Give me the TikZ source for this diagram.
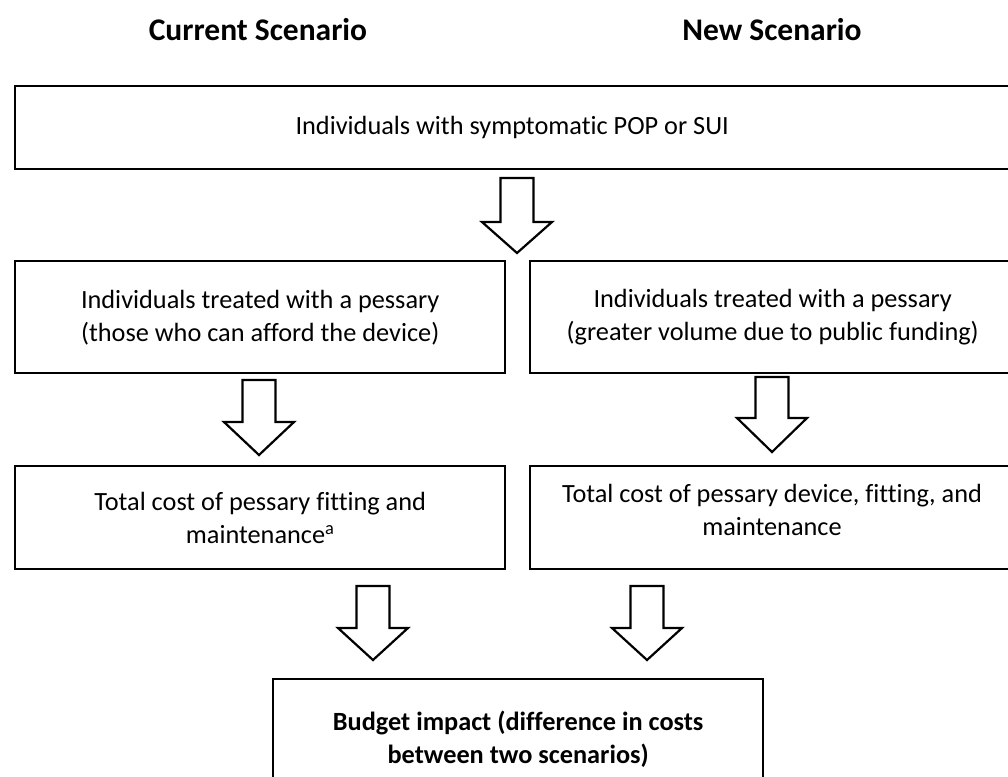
\documentclass[tikz,border=0pt]{standalone}
\usepackage{fontspec}
\setmainfont{Carlito}[Ligatures=NoCommon]
% hollow block arrow: centre x, shaft top, head top, tip
\newcommand\blockarrow[4]{%
  \draw[flowarrow] (#1-16.5,#2) -- (#1+16.5,#2) -- (#1+16.5,#3) -- (#1+35,#3)
    -- (#1,#4) -- (#1-35,#3) -- (#1-16.5,#3) -- cycle;}
\begin{document}
\begin{tikzpicture}[x=1pt,y=-1pt,
  box/.style={draw, line width=2.4pt, inner sep=0pt, anchor=north west,
    align=center, font=\fontsize{26.3}{33}\selectfont},
  bodytext/.style={align=center, font=\fontsize{26.3}{33}\selectfont},
  heading/.style={font=\fontsize{31.5}{36}\selectfont\bfseries},
  flowarrow/.style={draw, fill=white, line width=2.2pt, line join=miter}]
\useasboundingbox (0,0) rectangle (1008,776);
\clip (0,0) rectangle (1008,776);

% column headings
\node[heading] (curhead) at (258,30) {Current Scenario};
\node[heading] (newhead) at (772,30) {New Scenario};

% population
\node[box, minimum width=994pt, minimum height=83pt] (pop) at (14,85)
  {Individuals with symptomatic POP or SUI};

% treated
\node[box, minimum width=490pt, minimum height=112pt] (curtreat) at (14,260)
  {Individuals treated with a pessary\\(those who can afford the device)};
\node[box, minimum width=485pt, minimum height=112pt] (newtreat) at (529,260)
  {Individuals treated with a pessary\\(greater volume due to public funding)};

% costs
\node[box, minimum width=490pt, minimum height=103pt] (curcost) at (14,465)
  {Total cost of pessary fitting and\\maintenance\textsuperscript{a}};
\node[box, minimum width=485pt, minimum height=103pt] (newcost) at (529,465) {};
\node[bodytext] (newcosttext) at (772,510)
  {Total cost of pessary device, fitting, and\\maintenance};

% budget impact
\node[box, minimum width=490pt, minimum height=120pt,
  font=\fontsize{26.3}{33}\selectfont\bfseries] (impact) at (272,678)
  {Budget impact (difference in costs\\between two scenarios)};

% arrows between stages
\blockarrow{517}{178}{222}{253}
\blockarrow{259}{380}{422}{455}
\blockarrow{772}{377}{418}{452}
\blockarrow{373}{586}{628}{660}
\blockarrow{647}{586}{628}{660}
\end{tikzpicture}
\end{document}
